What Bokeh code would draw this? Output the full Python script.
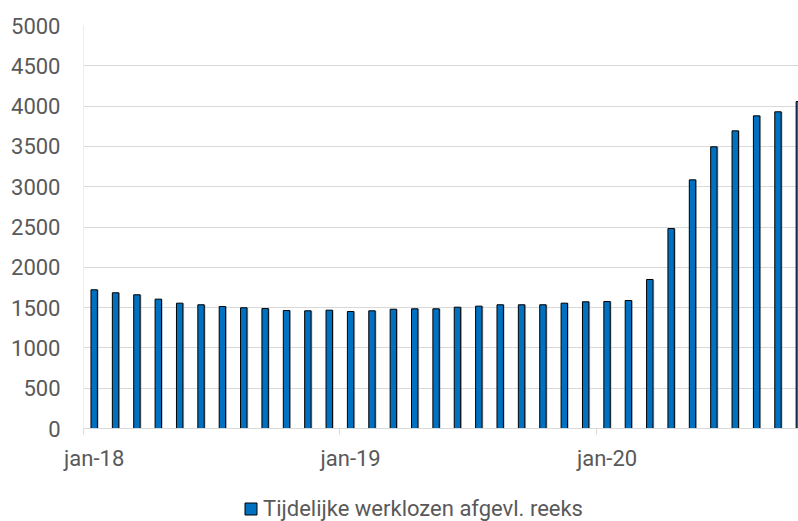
from bokeh.plotting import figure
from bokeh.layouts import column
from bokeh.models import (ColumnDataSource, Range1d, FixedTicker, Legend, LegendItem)
from bokeh.transform import dodge
from bokeh.embed import file_html
from bokeh.resources import INLINE

# ---- data ----
months = ["jan-18", "feb-18", "mrt-18", "apr-18", "mei-18", "jun-18", "jul-18", "aug-18",
          "sep-18", "okt-18", "nov-18", "dec-18",
          "jan-19", "feb-19", "mrt-19", "apr-19", "mei-19", "jun-19", "jul-19", "aug-19",
          "sep-19", "okt-19", "nov-19", "dec-19",
          "jan-20", "feb-20", "mrt-20", "apr-20", "mei-20", "jun-20", "jul-20", "aug-20",
          "sep-20", "okt-20"]
values = [1721, 1684, 1659, 1605, 1555, 1535, 1514, 1498, 1489, 1464, 1460, 1468,
          1452, 1460, 1480, 1485, 1485, 1505, 1518, 1535, 1535, 1535, 1555, 1572,
          1576, 1588, 1849, 2481, 3085, 3495, 3693, 3879, 3929, 4057]
series_name = "Tijdelijke werklozen afgevl. reeks"
y_ticks = [0, 500, 1000, 1500, 2000, 2500, 3000, 3500, 4000, 4500, 5000]
x_tick_labels = ["jan-18", "jan-19", "jan-20"]

idx = list(range(len(months)))
x_label_pos = [months.index(m) for m in x_tick_labels]
x_tick_marks = [p - 0.5 for p in x_label_pos]

src = ColumnDataSource(dict(x=idx, top=values, month=months))

TEXT = "#595959"
FONT = "Roboto"
BAR = "#0070C0"

p = figure(width=798, height=478, output_backend="svg", toolbar_location=None,
           x_range=Range1d(-0.5, 32.96), y_range=Range1d(0, 5000),
           min_border_left=83, min_border_right=0, min_border_top=25,
           min_border_bottom=50)
p.outline_line_color = None
p.background_fill_color = "white"
p.border_fill_color = "white"

# shadow
p.vbar(x=dodge("x", 0.06, range=p.x_range), top="top", bottom=0, width=0.30,
       source=src, fill_color="#808080", fill_alpha=0.55, line_color=None)
bars = p.vbar(x="x", top="top", bottom=0, width=0.30, source=src,
              fill_color=BAR, line_color="black", line_width=1)

# grid
p.xgrid.grid_line_color = None
p.ygrid.grid_line_color = "#d9d9d9"
p.ygrid.grid_line_width = 1

# y axis
p.yaxis.ticker = FixedTicker(ticks=y_ticks)
p.yaxis.axis_line_color = "#eeeeee"
p.yaxis.major_tick_line_color = None
p.yaxis.minor_tick_line_color = None
p.yaxis.major_tick_out = 0
p.yaxis.major_label_standoff = 23
p.yaxis.major_label_text_font = FONT
p.yaxis.major_label_text_font_size = "22px"
p.yaxis.major_label_text_color = TEXT

# x axis
p.xaxis.ticker = FixedTicker(ticks=x_label_pos, minor_ticks=x_tick_marks)
p.xaxis.major_label_overrides = {pos: lab for pos, lab in zip(x_label_pos, x_tick_labels)}
p.xaxis.axis_line_color = "#d9d9d9"
p.xaxis.major_tick_line_color = None
p.xaxis.major_tick_out = 0
p.xaxis.major_tick_in = 0
p.xaxis.minor_tick_line_color = "#d9d9d9"
p.xaxis.minor_tick_out = 6
p.xaxis.minor_tick_in = 0
p.xaxis.major_label_standoff = 11
p.xaxis.major_label_text_font = FONT
p.xaxis.major_label_text_font_size = "22px"
p.xaxis.major_label_text_color = TEXT

# legend strip (frame is aligned with the main plot's frame by the column)
lg = figure(width=798, height=43, output_backend="svg", toolbar_location=None,
            x_axis_type=None, y_axis_type=None,
            x_range=Range1d(-0.5, 32.96), y_range=Range1d(0, 1),
            min_border_left=0, min_border_right=0, min_border_top=0,
            min_border_bottom=0)
lg.outline_line_color = None
lg.xgrid.visible = False
lg.ygrid.visible = False
proxy = lg.quad(left="x", right="x", top="top", bottom=0, source=src,
                fill_color=BAR, line_color="black", line_width=1, visible=False)
legend = Legend(items=[LegendItem(label=series_name, renderers=[proxy])],
                location=(160, 0), orientation="horizontal",
                glyph_width=15, glyph_height=15, label_standoff=5,
                padding=0, margin=0, spacing=0,
                label_text_font=FONT, label_text_font_size="22px",
                label_text_color=TEXT, inactive_fill_alpha=0,
                border_line_color=None, background_fill_alpha=0)
lg.add_layout(legend, "center")

layout = column(p, lg, spacing=0)
open("out.html", "w").write(file_html(layout, INLINE))
